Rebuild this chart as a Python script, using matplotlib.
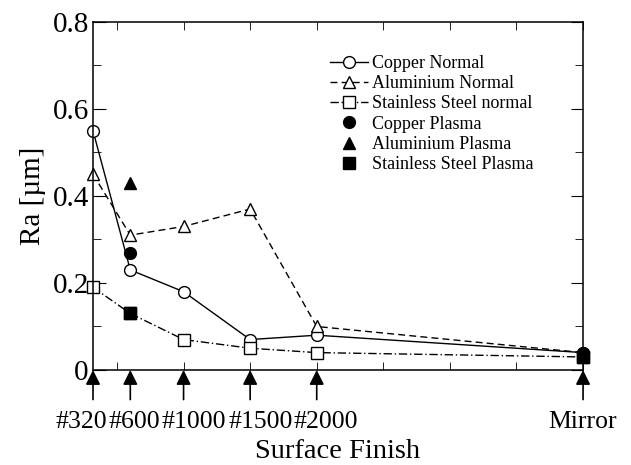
import matplotlib
matplotlib.use("Agg")
import matplotlib.pyplot as plt
from matplotlib.ticker import MultipleLocator

# Données
finish_pos = [320, 600, 1000, 1500, 2000, 4000]
finish_labels = ["#320", "#600", "#1000", "#1500", "#2000", "Mirror"]

copper_normal = [0.55, 0.23, 0.18, 0.07, 0.08, 0.04]
alu_normal = [0.45, 0.31, 0.33, 0.37, 0.10, 0.04]
steel_normal = [0.19, 0.13, 0.07, 0.05, 0.04, 0.03]

plasma_pos = [600, 4000]
copper_plasma = [0.27, 0.04]
alu_plasma = [0.43, 0.04]
steel_plasma = [0.13, 0.03]

plt.rcParams['font.family'] = ['Liberation Serif', 'DejaVu Serif']

fig = plt.figure(figsize=(6.31, 4.65), dpi=100)
ax = fig.add_axes([0.1474, 0.2043, 0.9240 - 0.1474, 0.9527 - 0.2043])

ms = 8.5
ax.plot(finish_pos, copper_normal, color='black', lw=1, marker='o', ms=ms,
        mfc='white', mec='black', mew=1, label="Copper Normal", clip_on=False)
ax.plot(finish_pos, alu_normal, color='black', lw=1, ls=(0, (5, 3)), marker='^', ms=ms,
        mfc='white', mec='black', mew=1, label="Aluminium Normal", clip_on=False)
ax.plot(finish_pos, steel_normal, color='black', lw=1, ls=(0, (6, 2, 1, 2)), marker='s', ms=ms,
        mfc='white', mec='black', mew=1, label="Stainless Steel normal", clip_on=False)
ax.plot(plasma_pos, copper_plasma, ls='none', marker='o', ms=ms, color='black',
        label="Copper Plasma", clip_on=False)
ax.plot(plasma_pos, alu_plasma, ls='none', marker='^', ms=ms, color='black',
        label="Aluminium Plasma", clip_on=False)
ax.plot(plasma_pos, steel_plasma, ls='none', marker='s', ms=ms, color='black',
        label="Stainless Steel Plasma", clip_on=False)

ax.set_xlim(320, 4000)
ax.set_ylim(0, 0.8)

# Graduations
ax.set_yticks([0, 0.2, 0.4, 0.6, 0.8])
ax.set_yticklabels(["0", "0.2", "0.4", "0.6", "0.8"])
ax.yaxis.set_minor_locator(MultipleLocator(0.1))
ax.set_xticks([])
ax.xaxis.set_minor_locator(MultipleLocator(500))
ax.tick_params(axis='x', which='minor', direction='in', length=6, top=True, bottom=True)
ax.tick_params(axis='y', which='both', direction='in', right=True, labelsize=21, pad=3)
ax.tick_params(axis='y', which='major', length=9)
ax.tick_params(axis='y', which='minor', length=6)
for sp in ax.spines.values():
    sp.set_linewidth(1.1)

# Flèches sous l'axe + étiquettes (décalage en pixels)
label_dx = [-12, 4, 10, 11, 9, 0]
for x, lab, dx in zip(finish_pos, finish_labels, label_dx):
    ax.annotate("", xy=(x, 0), xycoords=('data', 'axes fraction'),
                xytext=(x, -0.085), textcoords=('data', 'axes fraction'),
                arrowprops=dict(arrowstyle='-|>', color='black', lw=1.2,
                                mutation_scale=22, shrinkA=0, shrinkB=0),
                annotation_clip=False)
    ax.annotate(lab, xy=(x, 0), xycoords=('data', 'axes fraction'),
                xytext=(dx * 0.72, -52 * 0.72), textcoords='offset points',
                ha='center', va='center', fontsize=18.5, annotation_clip=False)

ax.text(0.5, -0.235, "Surface Finish", transform=ax.transAxes, ha='center', va='center',
        fontsize=20.5)
ax.set_ylabel("Ra [µm]", fontsize=21, labelpad=5)

ax.legend(loc='upper left', bbox_to_anchor=(330 / 631, 1 - 55 / 465),
          bbox_transform=fig.transFigure, frameon=False, fontsize=13,
          handlelength=2.1, handletextpad=0.25, labelspacing=0.18, borderaxespad=0,
          borderpad=0)

fig.savefig("out.png", dpi=100)
